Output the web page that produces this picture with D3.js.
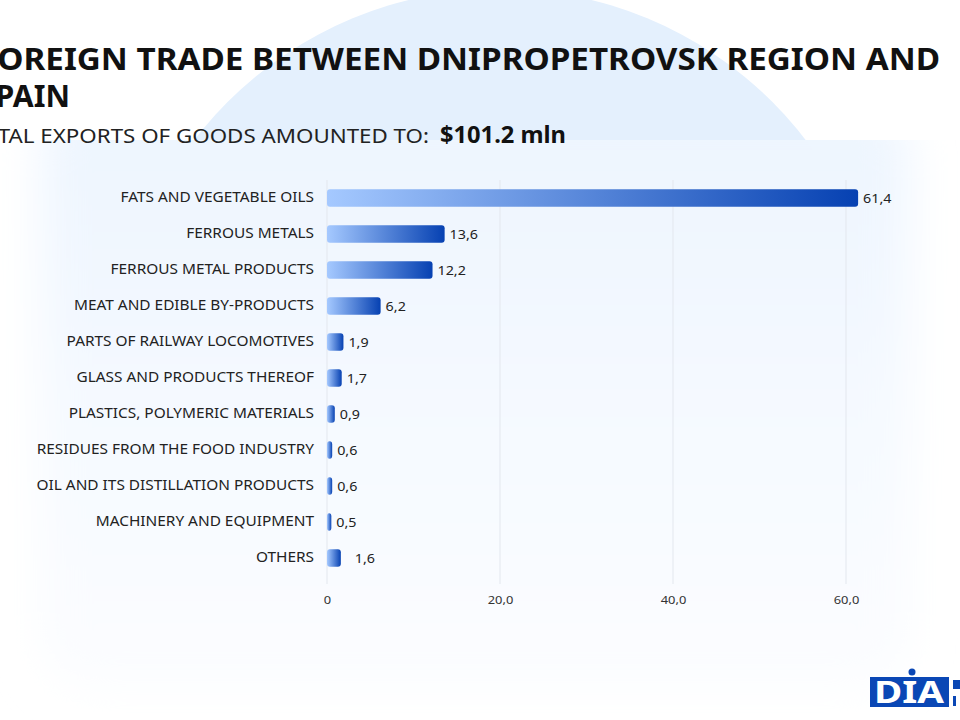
<!DOCTYPE html>
<html>
<head>
<meta charset="utf-8">
<script src="https://cdn.jsdelivr.net/npm/d3@7"></script>
<style>
  html, body { margin: 0; padding: 0; background: #ffffff; overflow: hidden; }
  svg { display: block; font-family: "Noto Sans", "DejaVu Sans", sans-serif; }
</style>
</head>
<body>
<svg id="chart" width="960" height="720"></svg>
<script>
// data
var categories = [
    'FATS AND VEGETABLE OILS',
    'FERROUS METALS',
    'FERROUS METAL PRODUCTS',
    'MEAT AND EDIBLE BY-PRODUCTS',
    'PARTS OF RAILWAY LOCOMOTIVES',
    'GLASS AND PRODUCTS THEREOF',
    'PLASTICS, POLYMERIC MATERIALS',
    'RESIDUES FROM THE FOOD INDUSTRY',
    'OIL AND ITS DISTILLATION PRODUCTS',
    'MACHINERY AND EQUIPMENT',
    'OTHERS'
];
var exportValues = [61.4, 13.6, 12.2, 6.2, 1.9, 1.7, 0.9, 0.6, 0.6, 0.5, 1.6];
var xTicks = [0, 20, 40, 60];
var titleLines = ['FOREIGN TRADE BETWEEN DNIPROPETROVSK REGION AND', 'SPAIN'];
var subtitleText = 'TOTAL EXPORTS OF GOODS AMOUNTED TO:';
var totalText = '$101.2 mln';

var rows = categories.map(function (c, i) {
    return {name: c, value: exportValues[i]};
});

// the original font is much wider than Noto Sans, stretch labels a bit
const widen = function (sel, k) {
    sel.each(function () {
        var w = this.getComputedTextLength();
        d3.select(this)
            .attr('textLength', w * k)
            .attr('lengthAdjust', 'spacingAndGlyphs');
    });
};

const svg = d3.select('#chart');
const defs = svg.append('defs');

// background: soft circle + blurred white card
defs.append('filter')
    .attr('id', 'blur')
    .attr('x', '-20%').attr('y', '-20%')
    .attr('width', '140%').attr('height', '140%')
    .append('feGaussianBlur')
    .attr('stdDeviation', 22);

defs.append('clipPath')
    .attr('id', 'cardClip')
    .append('rect')
    .attr('x', -100).attr('y', 140)
    .attr('width', 1200).attr('height', 700);

defs.append('clipPath')
    .attr('id', 'circleClip')
    .append('rect')
    .attr('x', 0).attr('y', 0)
    .attr('width', 960).attr('height', 160);

const cardGrad = defs.append('linearGradient')
    .attr('id', 'cardGrad')
    .attr('x1', 0).attr('y1', 0).attr('x2', 0).attr('y2', 1);
cardGrad.append('stop').attr('offset', '0%').attr('stop-color', '#edf5fe');
cardGrad.append('stop').attr('offset', '100%').attr('stop-color', '#fcfdff');

const barGrad = defs.append('linearGradient')
    .attr('id', 'barGrad')
    .attr('x1', 0).attr('y1', 0).attr('x2', 1).attr('y2', 0);
barGrad.append('stop').attr('offset', '0%').attr('stop-color', '#a5c9ff');
barGrad.append('stop').attr('offset', '100%').attr('stop-color', '#0641b2');

svg.append('circle')
    .attr('clip-path', 'url(#circleClip)')
    .attr('cx', 500).attr('cy', 374).attr('r', 385)
    .attr('fill', '#e4f0fd');

svg.append('g')
    .attr('clip-path', 'url(#cardClip)')
    .append('rect')
    .attr('x', 40).attr('y', 100)
    .attr('width', 870).attr('height', 590)
    .attr('rx', 50)
    .attr('fill', 'url(#cardGrad)')
    .attr('filter', 'url(#blur)');

// title
const title = svg.append('text')
    .attr('x', -21)
    .attr('font-weight', 700)
    .attr('font-size', 30)
    .attr('fill', '#111');
title.append('tspan').attr('x', -21).attr('y', 70)
    .attr('textLength', 961).attr('lengthAdjust', 'spacingAndGlyphs')
    .text(titleLines[0]);
title.append('tspan').attr('x', -21).attr('y', 107)
    .attr('textLength', 91).attr('lengthAdjust', 'spacingAndGlyphs')
    .text(titleLines[1]);

svg.append('text')
    .attr('x', -31).attr('y', 143)
    .attr('font-size', 20.5)
    .attr('fill', '#222')
    .attr('textLength', 460).attr('lengthAdjust', 'spacingAndGlyphs')
    .text(subtitleText);

svg.append('text')
    .attr('x', 440).attr('y', 143)
    .attr('font-size', 22.5)
    .attr('font-weight', 700)
    .attr('fill', '#111')
    .attr('textLength', 126).attr('lengthAdjust', 'spacingAndGlyphs')
    .text(totalText);

// chart
const xScale = d3.scaleLinear()
    .domain([0, 60])
    .range([327, 846]);

const yScale = d3.scaleBand()
    .domain(categories)
    .range([180, 576])
    .paddingInner(0.52)
    .paddingOuter(0.26);

const fmt = function (v) {
    return d3.format('.1f')(v).replace('.', ',');
};

const chart = svg.append('g');

chart.append('g')
    .selectAll('line')
    .data(xTicks)
    .enter().append('line')
    .attr('x1', function (d) { return xScale(d); })
    .attr('x2', function (d) { return xScale(d); })
    .attr('y1', 180)
    .attr('y2', 584)
    .attr('stroke', '#e3e7ee')
    .attr('stroke-width', 1);

const xAxis = chart.append('g')
    .attr('transform', 'translate(0,593)')
    .call(d3.axisBottom(xScale)
        .tickValues(xTicks)
        .tickSize(0)
        .tickFormat(function (d) { return d === 0 ? '0' : fmt(d); }));
xAxis.select('.domain').remove();
xAxis.selectAll('text')
    .attr('font-family', '"Noto Sans", sans-serif')
    .attr('font-size', 11.5)
    .attr('fill', '#333')
    .call(widen, 1.12);

const yAxis = chart.append('g')
    .attr('transform', 'translate(314,0)')
    .call(d3.axisLeft(yScale).tickSize(0).tickPadding(0));
yAxis.select('.domain').remove();
yAxis.selectAll('text')
    .attr('font-family', '"Noto Sans", sans-serif')
    .attr('font-size', 13.5)
    .attr('fill', '#222')
    .call(widen, 1.14);

const barGroups = chart.selectAll('.row')
    .data(rows)
    .enter()
    .append('g')
    .attr('class', 'row');

barGroups.append('rect')
    .attr('x', xScale(0))
    .attr('y', function (d) { return yScale(d.name); })
    .attr('width', function (d) { return Math.max(xScale(d.value) - xScale(0), 4); })
    .attr('height', yScale.bandwidth())
    .attr('rx', 3)
    .attr('fill', 'url(#barGrad)');

barGroups.append('text')
    .attr('x', function (d) {
        var extra = d.name === 'OTHERS' ? 14 : 5;
        return Math.max(xScale(d.value), xScale(0) + 4) + extra;
    })
    .attr('y', function (d) { return yScale(d.name) + yScale.bandwidth() / 2; })
    .attr('dy', '0.35em')
    .attr('font-size', 13)
    .attr('fill', '#222')
    .text(function (d) { return fmt(d.value); })
    .call(widen, 1.1);

// DIA logo, bottom right
const logo = svg.append('g');
logo.append('rect')
    .attr('x', 870).attr('y', 677)
    .attr('width', 79).attr('height', 30)
    .attr('fill', '#0a47b5');
logo.append('circle')
    .attr('cx', 912).attr('cy', 672).attr('r', 3.5)
    .attr('fill', '#0a47b5');
logo.append('text')
    .attr('x', 909).attr('y', 703)
    .attr('text-anchor', 'middle')
    .attr('font-size', 30)
    .attr('font-weight', 700)
    .attr('fill', '#fff')
    .attr('textLength', 70).attr('lengthAdjust', 'spacingAndGlyphs')
    .text('DIA');
logo.append('rect')
    .attr('x', 953).attr('y', 680)
    .attr('width', 7).attr('height', 9)
    .attr('fill', '#0a47b5');
logo.append('rect')
    .attr('x', 953).attr('y', 696)
    .attr('width', 3).attr('height', 10)
    .attr('fill', '#0a47b5');
</script>
</body>
</html>
